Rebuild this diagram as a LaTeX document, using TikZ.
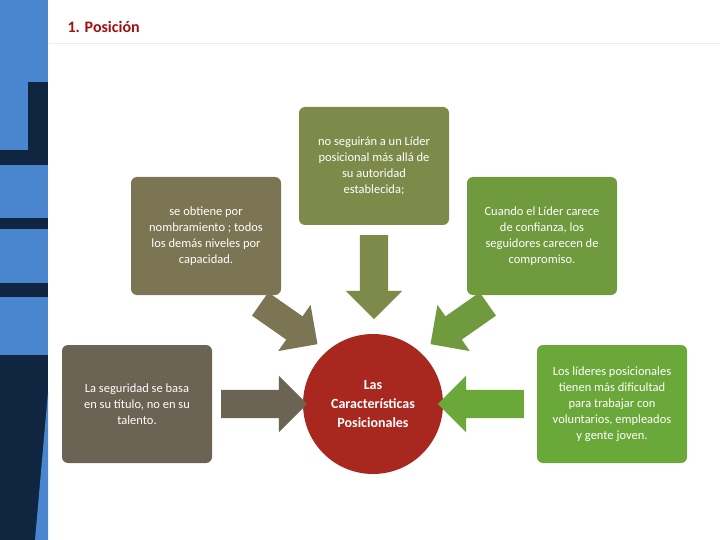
\documentclass[tikz,border=0pt]{standalone}
\usepackage{fontspec}
\setmainfont{Carlito}
\usetikzlibrary{shapes.arrows}
\definecolor{navy}{HTML}{0F2540}
\definecolor{skyb}{HTML}{4A86D0}
\definecolor{olive}{HTML}{7E8A4A}
\definecolor{khaki}{HTML}{7C7553}
\definecolor{leaf}{HTML}{6F9A3E}
\definecolor{taupe}{HTML}{6B6353}
\definecolor{lime}{HTML}{6AA83A}
\definecolor{brick}{HTML}{A8281F}
\definecolor{titlered}{HTML}{A01010}
\tikzset{
  card/.style={rounded corners=6pt, minimum width=150pt, minimum height=118pt, align=center, text=white, font=\fontsize{12.5}{16}\selectfont},
  blockarrow/.style={single arrow, inner xsep=0pt, inner ysep=14pt, single arrow head extend=14pt}
}
\begin{document}
\begin{tikzpicture}[x=1pt,y=-1pt]
\useasboundingbox (0,0) rectangle (720,540);
% Left strip
\fill[skyb] (0,0) rectangle (48,540);
\fill[navy] (28,82) rectangle (48,150);
\fill[navy] (0,150) rectangle (48,165);
\fill[navy] (0,218) rectangle (48,229);
\fill[navy] (0,283) rectangle (48,297);
\fill[navy] (0,355) rectangle (48,540);
\fill[skyb] (48,392) -- (48,540) -- (35,540) -- cycle;

% Title
\node[anchor=west, text=titlered, font=\fontsize{16}{18}\selectfont\bfseries] (title) at (64,27) {1. Posición};
\draw[black!8] (48,43) -- (720,43);

% Cards
\node[card, fill=olive] (top) at (374,166) {no seguirán a un Líder\\posicional más allá de\\su autoridad\\establecida;};
\node[card, fill=khaki] (ul) at (206,236) {se obtiene por\\nombramiento ; todos\\los demás niveles por\\capacidad.};
\node[card, fill=leaf] (ur) at (542,236) {Cuando el Líder carece\\de confianza, los\\seguidores carecen de\\compromiso.};
\node[card, fill=taupe] (ll) at (137,404) {La seguridad se basa\\en su título, no en su\\talento.};
\node[card, fill=lime] (lr) at (612,404) {Los líderes posicionales\\tienen más dificultad\\para trabajar con\\voluntarios, empleados\\y gente joven.};
\node[circle, fill=brick, minimum size=140pt, text=white, align=center, font=\fontsize{14}{19}\selectfont\bfseries] (core) at (373,404) {Las\\Características\\Posicionales};

% Block arrows
\node[blockarrow, fill=olive, minimum height=84pt, rotate=-90] (a1) at (374,270) {};
\node[blockarrow, fill=khaki, minimum height=70pt, rotate=-35] (a2) at (283,320) {};
\node[blockarrow, fill=leaf, minimum height=70pt, rotate=-145] (a3) at (465,320) {};
\node[blockarrow, fill=taupe, minimum height=86pt, rotate=0] (a4) at (257,404) {};
\node[blockarrow, fill=lime, minimum height=86pt, rotate=180] (a5) at (488,404) {};
\end{tikzpicture}
\end{document}
